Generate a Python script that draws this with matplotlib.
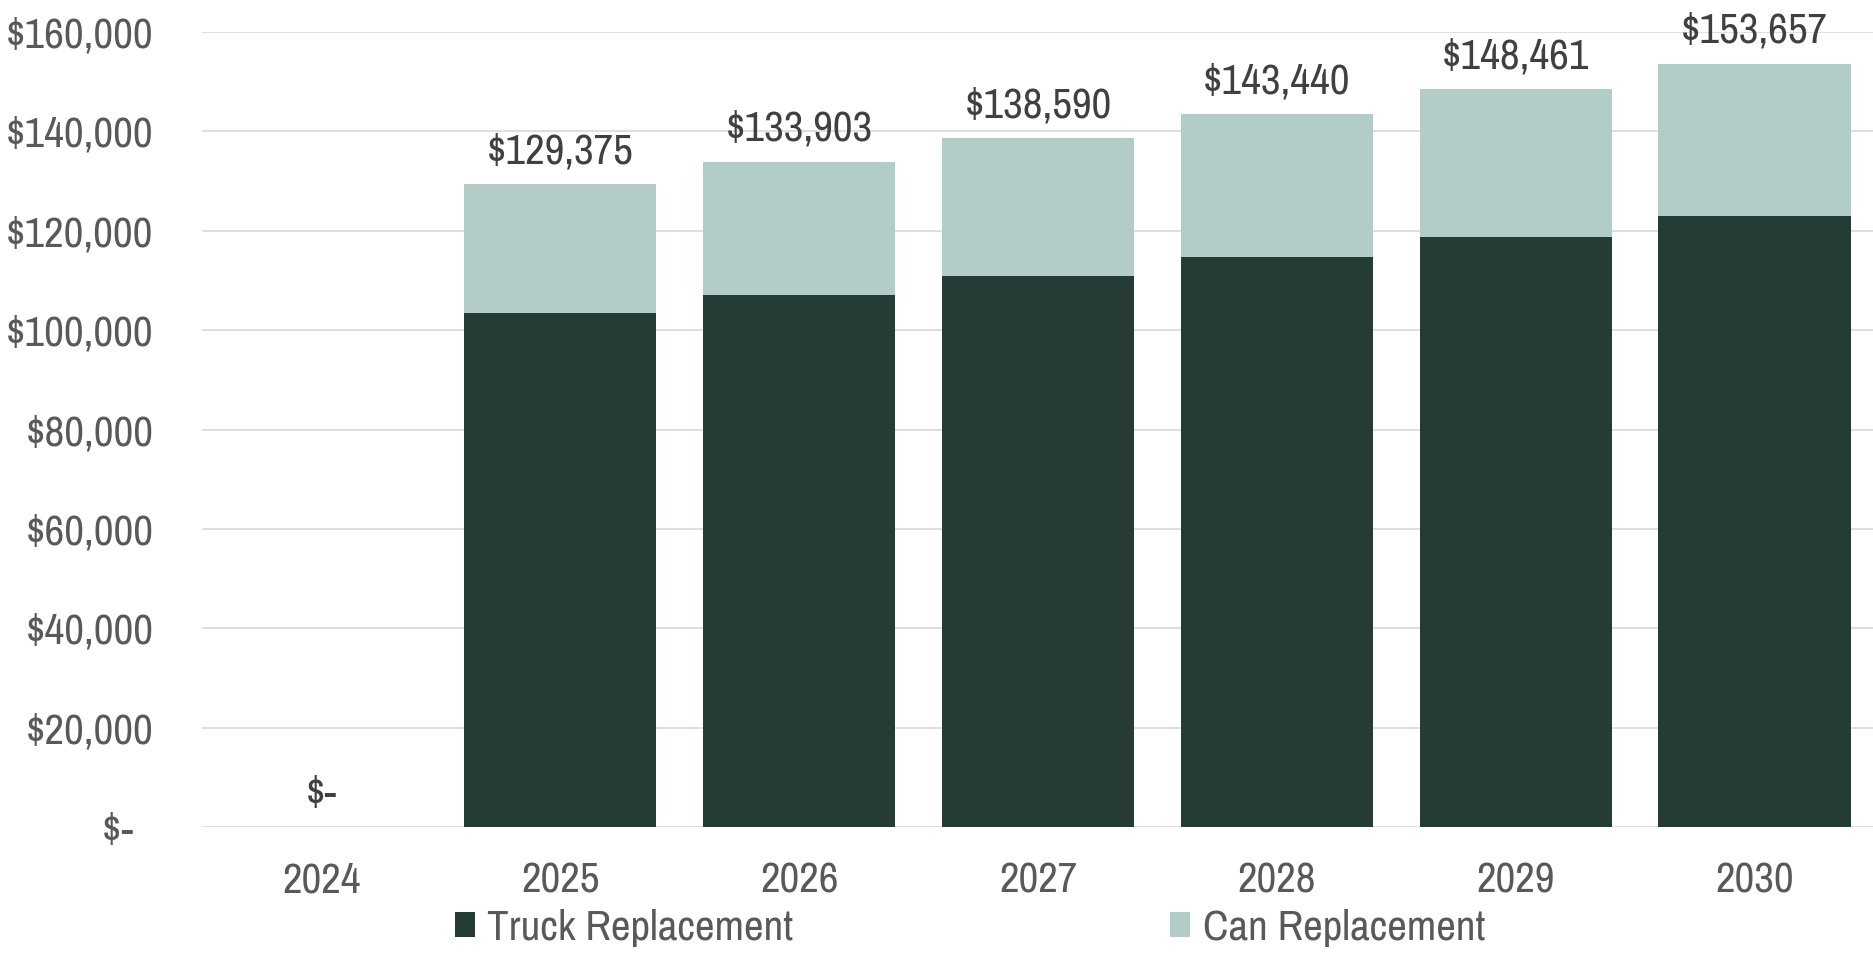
import matplotlib
matplotlib.use("Agg")
from matplotlib import pyplot as plt
from matplotlib.patches import Patch
from matplotlib.ticker import FuncFormatter

years = ["2024", "2025", "2026", "2027", "2028", "2029", "2030"]
truck = [0, 103500, 107122, 110872, 114752, 118769, 122926]
cans = [0, 25875, 26781, 27718, 28688, 29692, 30731]
totals = [0, 129375, 133903, 138590, 143440, 148461, 153657]

dark = "#253B35"
light = "#B2CDC8"
grey_text = "#595959"

plt.rcParams["font.family"] = ["Archivo Narrow", "Liberation Sans", "DejaVu Sans"]
fs = 31

fig = plt.figure(figsize=(18.74, 9.59), dpi=100)
ax = fig.add_axes([0.1078, 0.1376, 0.8922, 0.829])

x = range(len(years))
ax.bar(x, truck, width=0.805, color=dark, zorder=3)
ax.bar(x, cans, width=0.805, bottom=truck, color=light, zorder=3)

# totals above each stack
for i, t in enumerate(totals):
    label = "$-" if t == 0 else "${:,}".format(t)
    ax.annotate(label, (i, t), xytext=(0, 15), textcoords="offset points",
                ha="center", va="baseline", fontsize=fs, color="#404040",
                annotation_clip=False)


def money(v, pos):
    if v == 0:
        return "$-  "
    return "${:,.0f}".format(v)


ax.set_ylim(0, 160000)
ax.set_xlim(-0.5, len(years) - 0.5)
ax.set_yticks(range(0, 160001, 20000))
ax.yaxis.set_major_formatter(FuncFormatter(money))
ax.set_xticks(list(x))
ax.set_xticklabels(years)
ax.tick_params(axis="both", length=0, labelsize=fs, colors=grey_text)
ax.tick_params(axis="y", pad=35)
ax.tick_params(axis="x", pad=25)
ax.grid(axis="y", color="#D9D9D9", linewidth=1.2, zorder=0)
for s in ax.spines.values():
    s.set_visible(False)

handles = [Patch(facecolor=dark, label="Truck Replacement"),
           Patch(facecolor=light, label="Can Replacement")]
fig.legend(handles=handles, loc="center", bbox_to_anchor=(970 / 1874, 1 - 928 / 959),
           ncol=2, frameon=False, fontsize=fs, labelcolor=grey_text,
           handlelength=0.47, handleheight=0.51, handletextpad=0.28,
           columnspacing=8.75, borderpad=0)

fig.savefig("out.png", dpi=100)
